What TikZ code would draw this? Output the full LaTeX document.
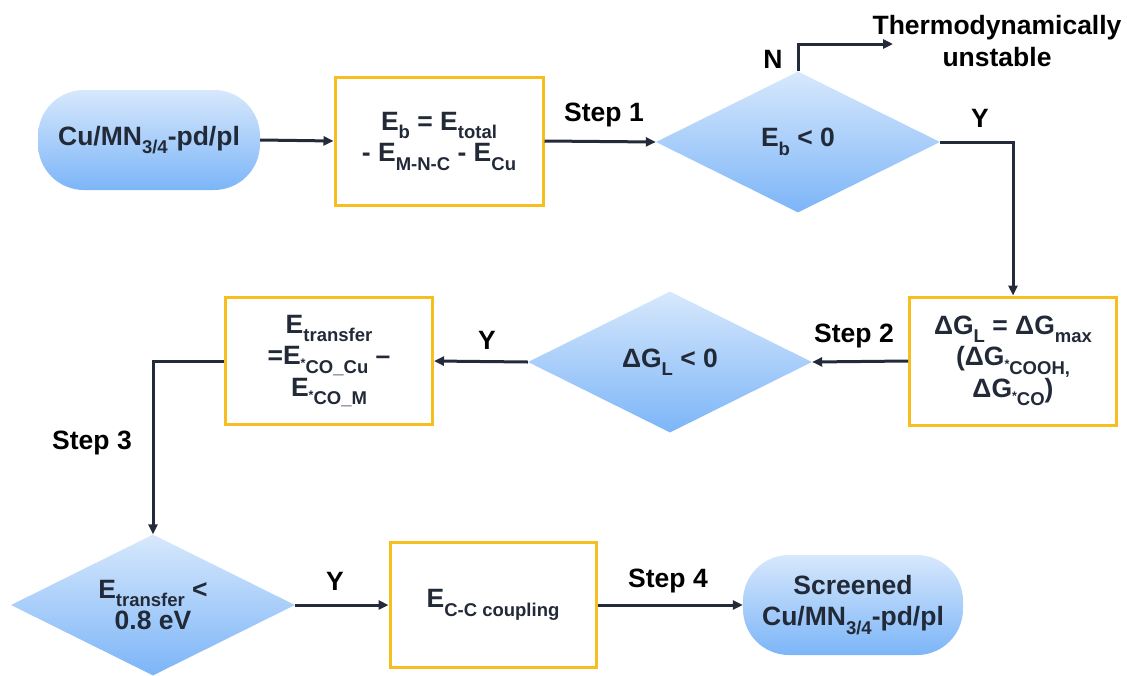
\documentclass[tikz,border=0pt]{standalone}
\usepackage{fontspec}
\setmainfont{Liberation Sans}
\usetikzlibrary{shapes.geometric,arrows.meta}
\definecolor{boxyellow}{RGB}{246,190,30}
\definecolor{linecol}{RGB}{35,43,58}
\definecolor{txtcol}{RGB}{34,42,56}
\definecolor{shtop}{RGB}{215,232,252}
\definecolor{shbot}{RGB}{124,181,248}
\newcommand{\lsub}[1]{\raisebox{-0.32em}{\fontsize{18.5}{18.5}\selectfont #1}}
\newcommand{\lstar}{\raisebox{0.3em}{\fontsize{12.5}{12.5}\selectfont *}}
\begin{document}
\begin{tikzpicture}[x=1pt,y=-1pt,
  every node/.style={font=\fontsize{26.5}{31.5}\selectfont\bfseries, text=txtcol},
  term/.style={rounded corners=46pt, top color=shtop, bottom color=shbot, draw=none,
     minimum width=222pt, minimum height=100pt, align=center, inner sep=0pt},
  proc/.style={draw=boxyellow, line width=3pt, fill=white, align=center, inner sep=0pt},
  dec/.style={diamond, shape aspect=2, top color=shtop, bottom color=shbot, draw=none,
     minimum width=284pt, minimum height=141pt, inner sep=0pt, align=center},
  conn/.style={draw=linecol, line width=3pt, -{Triangle[length=10pt,width=9pt]}},
  lbl/.style={text=black, inner sep=0pt}
]
\useasboundingbox (0,0) rectangle (1127,675);

% nodes
\node[term] (start) at (149,140) {Cu/MN\lsub{3/4}-pd/pl};
\node[proc, minimum width=208pt, minimum height=128pt] (eb) at (439,141)
  {E\lsub{b} = E\lsub{total}\\- E\lsub{M-N-C} - E\lsub{Cu}};
\node[dec] (d1) at (798,142) {E\lsub{b} < 0};
\node[lbl, align=center] (unst) at (997,41) {Thermodynamically\\unstable};
\coordinate (tu) at (893,44);
\node[proc, minimum width=207pt, minimum height=128pt] (dg) at (1013,361)
  {ΔG\lsub{L} = ΔG\lsub{max}\\(ΔG\lsub{\lstar COOH,}\\ΔG\lsub{\lstar CO})};
\node[dec] (d2) at (670,362) {ΔG\lsub{L} < 0};
\node[proc, minimum width=207pt, minimum height=127pt] (et) at (329,361)
  {E\lsub{transfer}\\=E\lsub{\lstar CO\_Cu} –\\E\lsub{\lstar CO\_M}};
\node[dec] (d3) at (153,605) {E\lsub{transfer} <\\0.8 eV};
\node[proc, minimum width=206pt, minimum height=125pt] (cc) at (493,605)
  {E\lsub{C-C coupling}};
\node[term, minimum width=220pt] (end) at (853,605) {Screened\\Cu/MN\lsub{3/4}-pd/pl};

% labels
\node[lbl] (s1) at (604,115) {Step 1};
\node[lbl] (ln) at (773,59) {N};
\node[lbl] (ly1) at (980,118) {Y};
\node[lbl] (s2) at (854,336) {Step 2};
\node[lbl] (ly2) at (487,340) {Y};
\node[lbl] (s3) at (92,443) {Step 3};
\node[lbl] (ly3) at (335,581) {Y};
\node[lbl] (s4) at (668,581) {Step 4};

% connectors
\draw[conn] (start.east) -- (eb.west);
\draw[conn] (eb.east) -- (d1.west);
\draw[conn] (d1.north) |- (tu);
\draw[conn] (d1.east) -| (dg.north);
\draw[conn] (dg.west) -- (d2.east);
\draw[conn] (d2.west) -- (et.east);
\draw[conn] (et.west) -| (d3.north);
\draw[conn] (d3.east) -- (cc.west);
\draw[conn] (cc.east) -- (end.west);
\end{tikzpicture}
\end{document}
